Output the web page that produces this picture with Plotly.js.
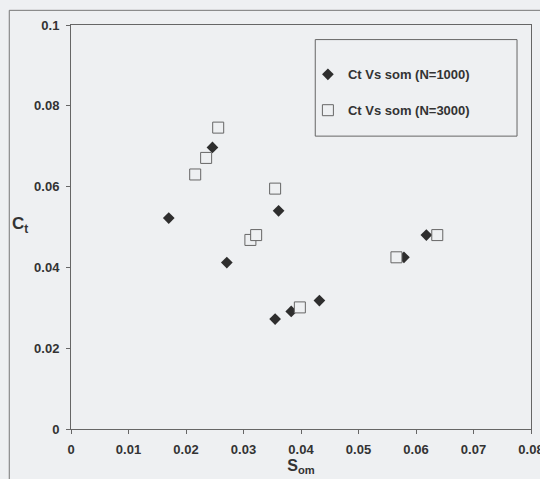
<!DOCTYPE html>
<html>
<head>
<meta charset="utf-8">
<script src="https://cdn.plot.ly/plotly-3.0.1.min.js"></script>
<style>
html,body{margin:0;padding:0;background:#eef0f2;}
#chart{width:540px;height:479px;}
</style>
</head>
<body>
<div id="chart"></div>
<script>
// Series N=1000 (filled diamonds)
var som1000 = [0.0170, 0.0246, 0.0271, 0.0355, 0.0361, 0.0383, 0.0432, 0.0579, 0.0618];
var ct1000  = [0.0522, 0.0697, 0.0412, 0.0272, 0.0540, 0.0291, 0.0318, 0.0425, 0.0480];
// Series N=3000 (open squares)
var som3000 = [0.0216, 0.0235, 0.0256, 0.0312, 0.0322, 0.0355, 0.0398, 0.0566, 0.0637];
var ct3000  = [0.0630, 0.0671, 0.0746, 0.0468, 0.0480, 0.0595, 0.0301, 0.0425, 0.0480];

var seriesNames = ["Ct Vs som (N=1000)", "Ct Vs som (N=3000)"];

var bg = "#eef0f2";
var ink = "#333333";
var fontFam = "'Liberation Sans', Arial, sans-serif";

var traces = [
  {
    x: som1000, y: ct1000, type: "scatter", mode: "markers",
    name: seriesNames[0], legendgroup: "a",
    marker: {symbol: "diamond", size: 9, color: "#2e2e2e", line: {width: 0}}
  },
  {
    x: som3000, y: ct3000, type: "scatter", mode: "markers",
    name: seriesNames[1], legendgroup: "b",
    marker: {symbol: "square", size: 11, color: bg, line: {width: 1, color: "#666"}}
  }
];

var layout = {
  width: 540, height: 479,
  margin: {l: 71, r: 9, t: 25, b: 50},
  paper_bgcolor: bg, plot_bgcolor: bg,
  font: {family: fontFam, color: ink, size: 13},
  showlegend: true,
  legend: {
    x: 0.515, y: 0.915, xanchor: "left", yanchor: "top",
    bgcolor: "rgba(0,0,0,0)", borderwidth: 0,
    traceorder: "grouped", tracegroupgap: 16,
    font: {family: fontFam, size: 13, color: ink, weight: "bold"}
  },
  xaxis: {
    range: [0, 0.08], dtick: 0.01, tick0: 0,
    showgrid: false, zeroline: false,
    showline: true, linecolor: "#666", linewidth: 1, mirror: true,
    ticks: "outside", ticklen: 4, tickcolor: "#666",
    ticklabeloverflow: "allow", ticklabelstandoff: 4,
    tickfont: {family: fontFam, size: 13, color: ink, weight: "bold"},
    title: {text: "<b>S<sub>om</sub></b>", font: {family: fontFam, size: 16, color: ink}, standoff: 3}
  },
  yaxis: {
    range: [0, 0.1], dtick: 0.02, tick0: 0,
    showgrid: false, zeroline: false,
    showline: true, linecolor: "#666", linewidth: 1, mirror: true,
    ticks: "outside", ticklen: 4, tickcolor: "#666",
    ticklabeloverflow: "allow", ticklabelstandoff: 4,
    tickfont: {family: fontFam, size: 13, color: ink, weight: "bold"}
  },
  annotations: [
    {text: "<b>C<sub>t</sub></b>", xref: "paper", yref: "paper",
     x: -0.11, y: 0.505, xanchor: "center", yanchor: "middle",
     showarrow: false, font: {family: fontFam, size: 17, color: ink}}
  ],
  shapes: [
    {type: "rect", xref: "paper", yref: "paper", layer: "below",
     x0: 0.531, x1: 0.9696, y0: 0.7249, y1: 0.9639,
     line: {color: "#666", width: 1}, fillcolor: bg},
    {type: "rect", xref: "paper", yref: "paper", layer: "below",
     x0: -0.1342, x1: 1.05, y0: -0.2, y1: 1.0363,
     line: {color: "#777", width: 1}, fillcolor: "rgba(0,0,0,0)"}
  ]
};

Plotly.newPlot("chart", traces, layout, {displayModeBar: false, staticPlot: true});
</script>
</body>
</html>
